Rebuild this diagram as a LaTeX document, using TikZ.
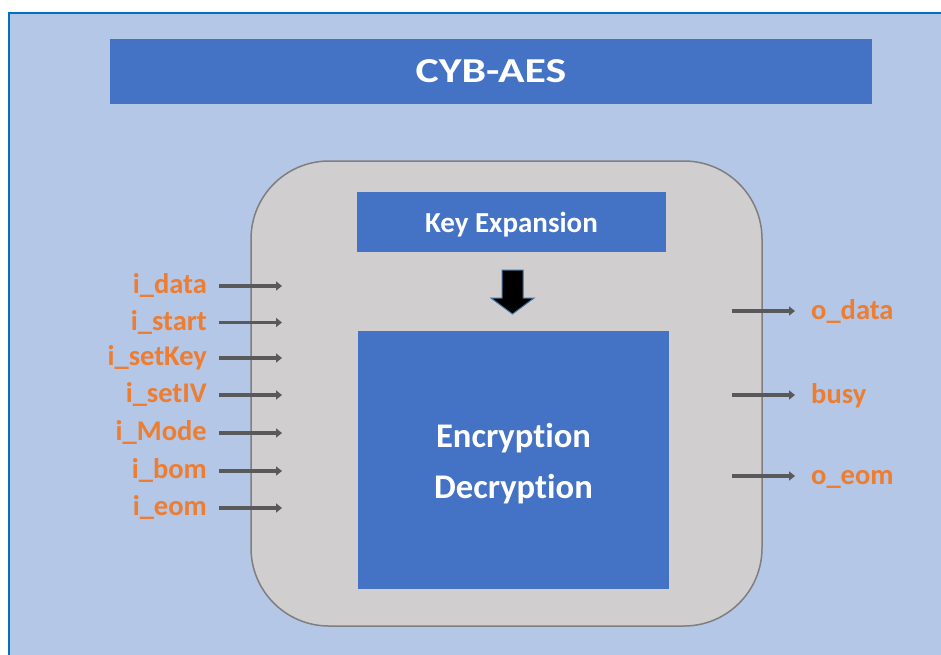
\documentclass[tikz,border=0pt]{standalone}
\usepackage{fontspec}
\setmainfont[Ligatures=NoCommon]{Carlito}
\usetikzlibrary{arrows.meta}
\definecolor{bgblue}{HTML}{B4C7E7}
\definecolor{frameblue}{HTML}{0070C0}
\definecolor{boxblue}{HTML}{4472C4}
\definecolor{coregray}{HTML}{D0CECE}
\definecolor{coreedge}{HTML}{7F7F7F}
\definecolor{sigorange}{HTML}{ED7D31}
\definecolor{sigline}{HTML}{595959}
\definecolor{arrowedge}{HTML}{41719C}
\tikzset{
  bluebox/.style={fill=boxblue, text=white, inner sep=0pt, font=\bfseries},
  sig/.style={text=sigorange, inner sep=0pt, font=\fontsize{28.5}{30}\selectfont\bfseries},
  sigarrow/.style={draw=sigline, line width=3.5pt, -{Triangle[length=6pt,width=9pt]}},
}
\begin{document}
\begin{tikzpicture}[x=1pt,y=-1pt]
\useasboundingbox (0,0) rectangle (941,654);
% page background and frame
\fill[white] (0,0) rectangle (941,654);
\fill[bgblue] (9,13) rectangle (945,658);
\draw[frameblue, line width=2pt] (9,660) -- (9,13) -- (945,13);

% title bar
\node[bluebox, minimum width=762pt, minimum height=65pt,
      font=\fontsize{35}{38}\selectfont\bfseries] (title) at (491,71)
      {\scalebox{1.25}[1]{CYB-AES}};

% core block
\node[fill=coregray, draw=coreedge, line width=1.5pt, rounded corners=78pt,
      minimum width=511pt, minimum height=465pt] (core) at (506.5,393.5) {};

% inner blocks
\node[bluebox, minimum width=309pt, minimum height=60pt] (key) at (511.5,222) {};
\node[text=white, inner sep=0pt, font=\fontsize{29}{32}\selectfont\bfseries]
      (keytxt) at (511.5,225) {Key Expansion};
\node[bluebox, minimum width=311pt, minimum height=258pt] (crypt) at (513.5,460) {};
\node[text=white, inner sep=0pt, align=center,
      font=\fontsize{34.6}{51}\selectfont\bfseries] (crypttxt) at (513.5,464)
      {Encryption\\Decryption};

% block arrow from key expansion to the cipher core
\draw[fill=black, draw=arrowedge, line width=1pt]
  (502,270) -- (523,270) -- (523,298) -- (534,298) -- (512.5,314)
  -- (491,298) -- (502,298) -- cycle;

% input signals
\foreach [count=\k] \lbl/\yy in {i\_data/286, i\_start/322.5, i\_setKey/358,
    i\_setIV/395, i\_Mode/433, i\_bom/471, i\_eom/508} {
  \coordinate (ia\k) at (219,\yy);
  \coordinate (ib\k) at (282,\yy);
  \node[sig, anchor=base east] (il\k) at (207,\yy+7.5) {\lbl};
  \draw[sigarrow] (ia\k) -- (ib\k);
}

% output signals
\foreach [count=\k] \lbl/\yy in {o\_data/311, busy/395, o\_eom/476} {
  \coordinate (oa\k) at (732,\yy);
  \coordinate (ob\k) at (795,\yy);
  \node[sig, anchor=base west] (ol\k) at (811,\yy+8) {\lbl};
  \draw[sigarrow] (oa\k) -- (ob\k);
}
\end{tikzpicture}
\end{document}
